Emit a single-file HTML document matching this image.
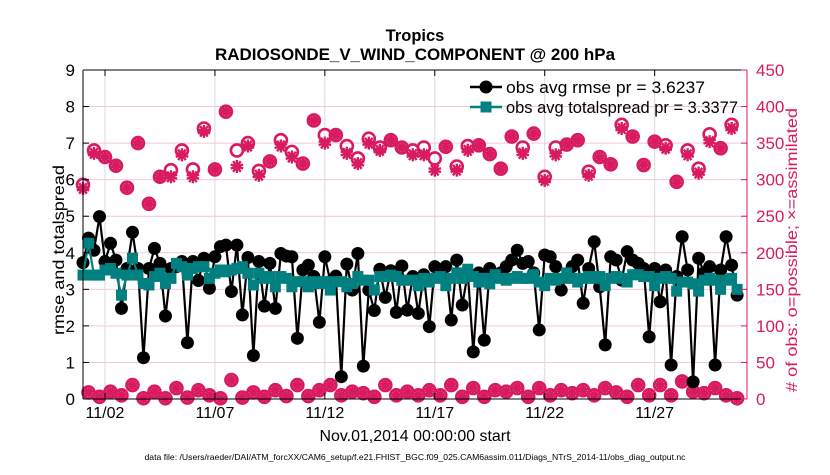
<!DOCTYPE html>
<html><head><meta charset="utf-8"><style>
body{margin:0;background:#fff;}
svg text{font-family:"Liberation Sans",sans-serif;}
</style></head><body>
<svg id="chart" width="830" height="470" viewBox="0 0 830 470" xmlns="http://www.w3.org/2000/svg">
<rect x="0" y="0" width="830" height="470" fill="#fff"/>
<text x="415" y="41" text-anchor="middle" font-size="16.5" font-weight="bold">Tropics</text>
<text x="415" y="60" text-anchor="middle" font-size="16.5" font-weight="bold" textLength="400" lengthAdjust="spacingAndGlyphs">RADIOSONDE_V_WIND_COMPONENT @ 200 hPa</text>
<g id="grid"></g>
<g id="marks"></g>
<g id="axes"></g>
<text transform="translate(64,250) rotate(-90)" text-anchor="middle" font-size="16" textLength="170" lengthAdjust="spacingAndGlyphs">rmse and totalspread</text>
<text transform="translate(797,250) rotate(-90)" text-anchor="middle" font-size="16" fill="#d81b60" textLength="284" lengthAdjust="spacingAndGlyphs"># of obs: o=possible; ×=assimilated</text>
<text x="415" y="441" text-anchor="middle" font-size="16" textLength="191" lengthAdjust="spacingAndGlyphs">Nov.01,2014 00:00:00 start</text>
<text x="415" y="460" text-anchor="middle" font-size="8.5" textLength="541" lengthAdjust="spacingAndGlyphs">data file: /Users/raeder/DAI/ATM_forcXX/CAM6_setup/f.e21.FHIST_BGC.f09_025.CAM6assim.011/Diags_NTrS_2014-11/obs_diag_output.nc</text>
<g>
<line x1="470" y1="87" x2="502" y2="87" stroke="#000" stroke-width="2.5"/>
<circle cx="486" cy="87" r="6.5" fill="#000"/>
<text x="506" y="93" font-size="17" textLength="199" lengthAdjust="spacingAndGlyphs">obs avg rmse pr = 3.6237</text>
<line x1="470" y1="107" x2="502" y2="107" stroke="#008080" stroke-width="2.5"/>
<rect x="480.5" y="101.5" width="11" height="11" fill="#008080"/>
<text x="506" y="113" font-size="17" textLength="232" lengthAdjust="spacingAndGlyphs">obs avg totalspread pr = 3.3377</text>
</g>
</svg>
<script>
const rmse=[3.73,4.4,4.07,4.99,3.76,4.26,3.8,2.48,3.57,4.56,3.57,1.13,3.57,4.12,3.71,2.27,3.57,3.62,3.76,1.54,3.76,3.24,3.85,3.03,3.89,4.17,4.21,2.94,4.21,2.3,3.87,1.19,3.76,2.54,3.71,2.48,3.98,3.91,3.89,1.66,3.53,3.66,3.35,2.1,3.89,3.21,3.36,0.61,3.69,2.98,3.98,0.9,2.98,2.42,3.55,2.78,3.51,2.37,3.64,2.43,
3.35,2.34,3.4,1.98,3.62,3.35,3.62,2.16,3.8,2.57,3.45,1.29,3.45,1.61,3.57,3.35,3.45,3.62,3.8,4.07,3.71,3.76,3.45,1.89,3.94,3.89,3.62,2.98,3.35,3.62,3.8,2.62,3.57,4.3,3.07,1.48,3.89,3.8,3.25,4.03,3.8,3.71,3.57,1.7,3.57,2.66,3.53,0.93,3.35,4.44,3.53,0.47,3.85,3.45,3.62,0.93,3.53,4.44,3.66,2.84];
const spread=[3.39,4.26,3.39,3.39,3.53,3.57,3.44,2.84,3.39,3.85,3.39,3.16,3.12,3.35,3.44,3.16,3.3,3.71,3.62,3.39,3.57,3.62,3.62,3.3,3.44,3.53,3.48,3.53,3.57,3.62,3.44,3.12,3.44,3.3,3.35,3.07,3.35,3.3,3.07,3.21,3.21,3.07,3.21,3.16,3.21,2.98,3.21,3.21,3.07,3.16,3.35,3.25,3.25,2.98,3.35,3.35,3.39,3.35,3.25,3.25,
3.25,3.1,3.3,3.2,3.3,3.35,3.1,3.3,3.45,3.3,3.55,3.35,3.2,3.3,3.15,3.4,3.3,3.25,3.3,3.35,3.3,3.3,3.4,3.2,3.1,3.3,3.25,3.3,3.45,3.3,3.2,3.3,3.35,3.3,3.35,3.1,3.3,3.35,3.3,3.2,3.4,3.4,3.35,3.35,3.1,3.3,3.35,3.3,2.95,3.2,3.2,3.15,2.95,3.25,3.3,3.25,3.0,3.25,3.3,3.0];
const possibleEven=[293,340,331,319,289,350,267,304,313,340,314,370,314,393,340,350,312,325,354,338,322,381,361,361,346,329,356,344,354,344,340,344,329,345,318,346,347,335,315,359,344,363,304,344,348,354,311,331,321,375,359,320,352,347,297,340,315,362,343,375];
const assimEven=[288,336,331,319,289,350,267,304,304,334,304,366,314,393,318,346,306,325,346,331,322,381,350,361,336,322,350,340,354,344,334,334,313,345,313,340,347,335,315,359,336,363,299,334,348,354,306,331,321,370,359,320,352,343,297,334,309,352,343,370];
const obsOdd=[9,3,10,5,19,1,10,1,15,2,12,5,1,26,2,9,3,12,4,19,4,12,19,5,10,8,3,19,5,10,5,12,5,19,3,15,3,12,10,15,3,15,5,12,8,12,5,15,9,3,19,5,19,5,24,10,8,15,5,1];
const xTickDays=[1,6,11,16,21,26];
const xTickLabels=["11/02","11/07","11/12","11/17","11/22","11/27"];
const yTicks=[0,1,2,3,4,5,6,7,8,9];
const y2Ticks=[0,50,100,150,200,250,300,350,400,450];

const L=83,R=747,T=70,B=399,NS="http://www.w3.org/2000/svg";
const xs=d=>L+(d/30.2)*(R-L);
const ys=v=>B-(v/9)*(B-T);
const ys2=v=>B-(v/450)*(B-T);
const dayOf=i=>i*0.25;
function mk(tag,attrs,parent){const e=document.createElementNS(NS,tag);for(const k in attrs)e.setAttribute(k,attrs[k]);parent.appendChild(e);return e;}
const grid=document.getElementById('grid'),marks=document.getElementById('marks'),axes=document.getElementById('axes');
yTicks.forEach(v=>{if(v>0&&v<9){const l=mk('line',{x1:L,x2:R,y1:ys(v),y2:ys(v),stroke:'#f4c7d7','stroke-width':1},grid);

}});
xTickDays.forEach(d=>{const l=mk('line',{x1:xs(d),x2:xs(d),y1:T,y2:B,stroke:'#d9d9d9','stroke-width':1},grid);

});
const pos=[],asm=[];
for(let i=0;i<120;i++){if(i%2===0){pos.push(possibleEven[i/2]);asm.push(assimEven[i/2]);}else{pos.push(obsOdd[(i-1)/2]);asm.push(obsOdd[(i-1)/2]);}}
const C='#d81b60';
for(let i=0;i<120;i++){const x=xs(dayOf(i));
 const c=mk('circle',{cx:x,cy:ys2(pos[i]),r:6,fill:'none',stroke:C,'stroke-width':2.6},marks);
 
 
 const y=ys2(asm[i]);const g=mk('g',{stroke:C,'stroke-width':2.4},marks);
 
 
 [[0,6.5],[6.2,2],[3.8,-5.3],[-3.8,-5.3],[-6.2,2]].forEach(([dx,dy])=>{mk('line',{x1:x,y1:y,x2:x+dx,y2:y-dy},g);mk('line',{x1:x,y1:y,x2:x-dx,y2:y+dy},g);});
}
let d='';rmse.forEach((v,i)=>{d+=(i?'L':'M')+xs(dayOf(i)).toFixed(1)+' '+ys(v).toFixed(1);});
const rl=mk('path',{d:d,fill:'none',stroke:'#000','stroke-width':2.2},marks);


rmse.forEach((v,i)=>{const c=mk('circle',{cx:xs(dayOf(i)),cy:ys(v),r:6.5,fill:'#000'},marks);

});
let d2='';spread.forEach((v,i)=>{d2+=(i?'L':'M')+xs(dayOf(i)).toFixed(1)+' '+ys(v).toFixed(1);});
const sl=mk('path',{d:d2,fill:'none',stroke:'#008080','stroke-width':2.2},marks);


spread.forEach((v,i)=>{const r=mk('rect',{x:xs(dayOf(i))-5.5,y:ys(v)-5.5,width:11,height:11,fill:'#008080'},marks);

});
mk('line',{x1:L,x2:R,y1:T,y2:T,stroke:'#000','stroke-width':1},axes);
mk('line',{x1:L,x2:R,y1:B,y2:B,stroke:'#000','stroke-width':1},axes);
mk('line',{x1:L,x2:L,y1:T,y2:B,stroke:'#000','stroke-width':1},axes);
mk('line',{x1:R,x2:R,y1:T,y2:B,stroke:C,'stroke-width':1},axes);
yTicks.forEach(v=>{mk('line',{x1:L,x2:L+6,y1:ys(v),y2:ys(v),stroke:'#000'},axes);
 const t=mk('text',{x:L-8,y:ys(v)+6,'text-anchor':'end','font-size':17},axes);t.textContent=v;
 
 });
y2Ticks.forEach(v=>{mk('line',{x1:R-6,x2:R,y1:ys2(v),y2:ys2(v),stroke:C},axes);
 const t=mk('text',{x:R+9,y:ys2(v)+6,'font-size':17,fill:C},axes);t.textContent=v;
 
 });
xTickDays.forEach((dd,k)=>{mk('line',{x1:xs(dd),x2:xs(dd),y1:B,y2:B-6,stroke:'#000'},axes);mk('line',{x1:xs(dd),x2:xs(dd),y1:T,y2:T+6,stroke:'#000'},axes);
 const t=mk('text',{x:xs(dd),y:418,'text-anchor':'middle','font-size':16},axes);t.textContent=xTickLabels[k];
 
 });
</script>
</body></html>
